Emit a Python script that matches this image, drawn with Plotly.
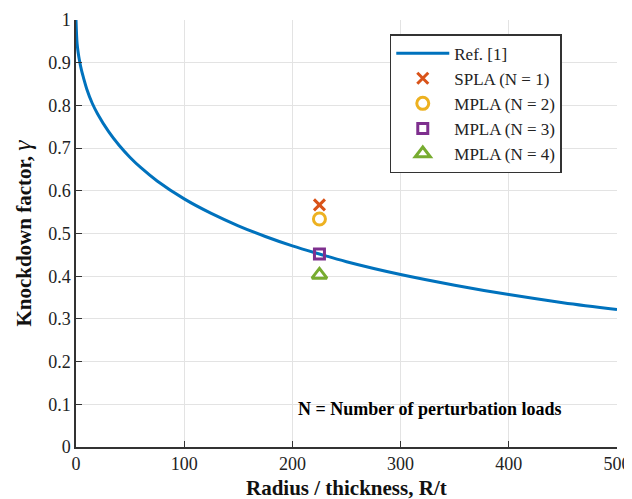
import plotly.graph_objects as go

# Reference curve
ref_rt = [0, 1, 2, 3, 5, 7, 10, 15, 20, 30, 40, 50, 60, 75, 100, 125, 150, 175, 200,
          225, 250, 300, 350, 400, 450, 500]
ref_gamma = [1.0, 0.945, 0.924, 0.908, 0.883, 0.864, 0.838, 0.805, 0.780, 0.739, 0.706,
             0.678, 0.654, 0.623, 0.581, 0.547, 0.518, 0.493, 0.471, 0.452, 0.434,
             0.404, 0.379, 0.357, 0.338, 0.322]

# Test results
test_rt = 225
spla1 = 0.567
mpla2 = 0.534
mpla3 = 0.452
mpla4 = 0.403

fig = go.Figure()
fig.add_trace(go.Scatter(x=ref_rt, y=ref_gamma, mode="lines", name="Ref. [1]",
                         line=dict(color="#0072BD", width=3, shape="spline")))
fig.add_trace(go.Scatter(x=[test_rt], y=[spla1], mode="markers", name="SPLA (N = 1)",
                         marker=dict(symbol="x-thin", size=11, line=dict(color="#D95319", width=3))))
fig.add_trace(go.Scatter(x=[test_rt], y=[mpla2], mode="markers", name="MPLA (N = 2)",
                         marker=dict(symbol="circle-open", size=12, color="#EDB120", line=dict(width=3))))
fig.add_trace(go.Scatter(x=[test_rt], y=[mpla3], mode="markers", name="MPLA (N = 3)",
                         marker=dict(symbol="square-open", size=10, color="#7E2F8E", line=dict(width=3))))
fig.add_trace(go.Scatter(x=[test_rt], y=[mpla4], mode="markers", name="MPLA (N = 4)",
                         marker=dict(symbol="triangle-up-open", size=13, color="#77AC30", line=dict(width=3))))

fig.add_annotation(x=327, y=0.089, text="<b>N = Number of perturbation loads</b>",
                   showarrow=False, font=dict(size=18, color="black", family="Liberation Serif"))

# X-axis title placed as paper annotation
fig.add_annotation(x=0.5, y=-0.096, xref="paper", yref="paper", xanchor="center", yanchor="middle",
                   text="<b>Radius / thickness, R/t</b>", showarrow=False,
                   font=dict(size=21, color="#111", family="Liberation Serif"))

fig.update_layout(
    width=624, height=491,
    margin=dict(l=68, r=15, t=12, b=52),
    paper_bgcolor="white", plot_bgcolor="white",
    font=dict(family="Liberation Serif", size=18, color="#222"),
    showlegend=True,
    legend=dict(x=0.580, y=0.967, xanchor="left", yanchor="top",
                bordercolor="#333", borderwidth=1.5, bgcolor="white",
                font=dict(size=17, color="#222"), tracegroupgap=0, itemwidth=53),
    xaxis=dict(range=[0, 500], tickvals=[0, 100, 200, 300, 400, 500], automargin=False,
               showgrid=True, gridcolor="#e3e3e3", gridwidth=1,
               showline=True, linecolor="#333", linewidth=1.5,
               ticks="inside", ticklen=6, tickcolor="#333", zeroline=False,
               tickfont=dict(size=18)),
    yaxis=dict(range=[0, 1], tickvals=[0, 0.1, 0.2, 0.3, 0.4, 0.5, 0.6, 0.7, 0.8, 0.9, 1], automargin=False,
               ticktext=["0", "0.1", "0.2", "0.3", "0.4", "0.5", "0.6", "0.7", "0.8", "0.9", "1"],
               showgrid=True, gridcolor="#e3e3e3", gridwidth=1,
               showline=True, linecolor="#333", linewidth=1.5,
               ticks="inside", ticklen=6, tickcolor="#333", zeroline=False,
               tickfont=dict(size=18),
               title=dict(text="<b>Knockdown factor, </b><i style='font-size:26px'>γ</i>", font=dict(size=21, color="#111"), standoff=12)),
)

fig.write_html("out.html")
